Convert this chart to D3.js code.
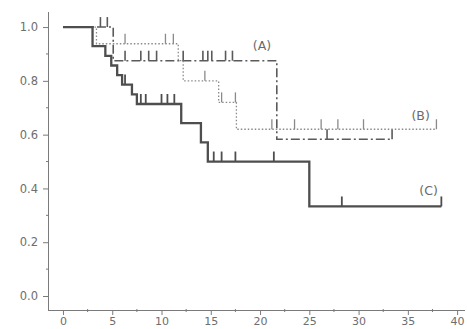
<!DOCTYPE html>
<html>
<head>
<meta charset="utf-8">
<script src="https://cdn.jsdelivr.net/npm/d3@7"></script>
<style>
  body { margin: 0; background: #fff; }
  text { font-family: "DejaVu Sans", sans-serif; }
</style>
</head>
<body>
<div id="chart"></div>
<script>
// ---- data ----
const timesA = [0, 5.1, 21.7];
const survA  = [1.0, 0.875, 0.583];
const endA   = 33.4;
const censA  = [3.8, 4.5, 6.3, 7.9, 8.7, 9.5, 12.2, 14.2, 14.7, 15.1, 16.5, 17.2, 26.8, 33.4];

const timesB = [0, 3.4, 11.7, 12.2, 15.8, 17.6];
const survB  = [1.0, 0.938, 0.875, 0.80, 0.72, 0.62];
const endB   = 37.9;
const censB  = [6.3, 10.4, 11.2, 14.4, 16.1, 17.5, 21.2, 23.5, 26.2, 27.9, 30.5, 37.9];

const timesC = [0, 3.0, 4.3, 4.9, 5.5, 6.0, 7.0, 7.5, 12.0, 14.0, 14.7, 25.0];
const survC  = [1.0, 0.929, 0.893, 0.857, 0.821, 0.786, 0.75, 0.714, 0.643, 0.571, 0.50, 0.333];
const endC   = 38.4;
const censC  = [6.3, 7.9, 8.4, 10.0, 10.6, 11.3, 15.3, 16.1, 17.5, 21.4, 28.3, 38.4];

const xTicks = [0, 5, 10, 15, 20, 25, 30, 35, 40];
const yTicks = [0.0, 0.2, 0.4, 0.6, 0.8, 1.0];
const curveLabels = ["(A)", "(B)", "(C)"];

// ---- drawing ----
const width = 467, height = 329;

const x = d3.scaleLinear().domain([-1.52, 40.8]).range([48, 465]);
const y = d3.scaleLinear().domain([-0.052, 1.056]).range([310, 12]);

const svg = d3.select("#chart")
	.append("svg")
	.attr("width", width)
	.attr("height", height);

// axes
const axisCol = "#7a7a7a";

const xAxis = svg.append("g")
	.attr("transform", "translate(0," + y(-0.052) + ")")
	.call(d3.axisBottom(x).tickValues(xTicks).tickSize(5).tickFormat(d3.format("d")));
xAxis.append("g").selectAll("line")
	.data(d3.range(2.5, 40, 5)).enter()
	.append("line")
	.attr("x1", d => x(d)).attr("x2", d => x(d))
	.attr("y1", -1).attr("y2", 2)
	.attr("stroke", axisCol);

const yAxis = svg.append("g")
	.attr("transform", "translate(" + x(-1.52) + ",0)")
	.call(d3.axisLeft(y).tickValues(yTicks).tickSize(5).tickFormat(d3.format(".1f")));
yAxis.append("g").selectAll("line")
	.data([0.1, 0.3, 0.5, 0.7, 0.9]).enter()
	.append("line")
	.attr("x1", -2).attr("x2", 1)
	.attr("y1", d => y(d)).attr("y2", d => y(d))
	.attr("stroke", axisCol);

[xAxis, yAxis].forEach(function(a) {
	a.selectAll(".tick line").attr("stroke", axisCol);
	a.selectAll("text").attr("fill", "#6e6e6e").style("font-size", "11.5px");
});
// straight axis lines without end caps
xAxis.select(".domain").attr("stroke", axisCol).attr("d", "M" + x(-1.52) + ",0.5H" + x(40.8));
yAxis.select(".domain").attr("stroke", axisCol).attr("d", "M0.5," + y(1.056) + "V" + y(-0.052));
xAxis.selectAll(".tick text").attr("y", 15).attr("dy", 0).style("font-size", "11px");
yAxis.selectAll(".tick text").attr("x", -10);

// survival curves
const curves = [
	{ t: timesA, s: survA, end: endA, cens: censA, color: "#5a5a5a", w: 1.6, dash: "9,3,2,3" },
	{ t: timesB, s: survB, end: endB, cens: censB, color: "#8a8a8a", w: 1.3, dash: "1.5,2" },
	{ t: timesC, s: survC, end: endC, cens: censC, color: "#4e4e4e", w: 2.3, dash: null }
];

const line = d3.line()
	.x(d => x(d[0]))
	.y(d => y(d[1]))
	.curve(d3.curveStepAfter);

function levelAt(c, t) {
	const i = d3.bisectRight(c.t, t) - 1;
	return c.s[Math.max(0, i)];
}

const plot = svg.append("g");

curves.forEach(function(c) {
	const pts = c.t.map((t, i) => [t, c.s[i]]);
	pts.push([c.end, c.s[c.s.length - 1]]);
	plot.append("path")
		.datum(pts)
		.attr("d", line)
		.attr("fill", "none")
		.attr("stroke", c.color)
		.attr("stroke-width", c.w)
		.attr("stroke-dasharray", c.dash);

	plot.append("g").selectAll("line")
		.data(c.cens).enter()
		.append("line")
		.attr("x1", d => x(d)).attr("x2", d => x(d))
		.attr("y1", d => y(levelAt(c, d)))
		.attr("y2", d => y(levelAt(c, d)) - 10)
		.attr("stroke", c.color)
		.attr("stroke-width", Math.min(c.w, 1.8));
});

// curve labels
const labelPos = [[20.2, 0.915], [36.3, 0.655], [37.1, 0.375]];
svg.append("g").selectAll("text")
	.data(curveLabels).enter()
	.append("text")
	.attr("x", (d, i) => x(labelPos[i][0]))
	.attr("y", (d, i) => y(labelPos[i][1]))
	.attr("text-anchor", "middle")
	.attr("fill", "#6a6a6a")
	.style("font-size", "12.5px")
	.text(d => d);
</script>
</body>
</html>
